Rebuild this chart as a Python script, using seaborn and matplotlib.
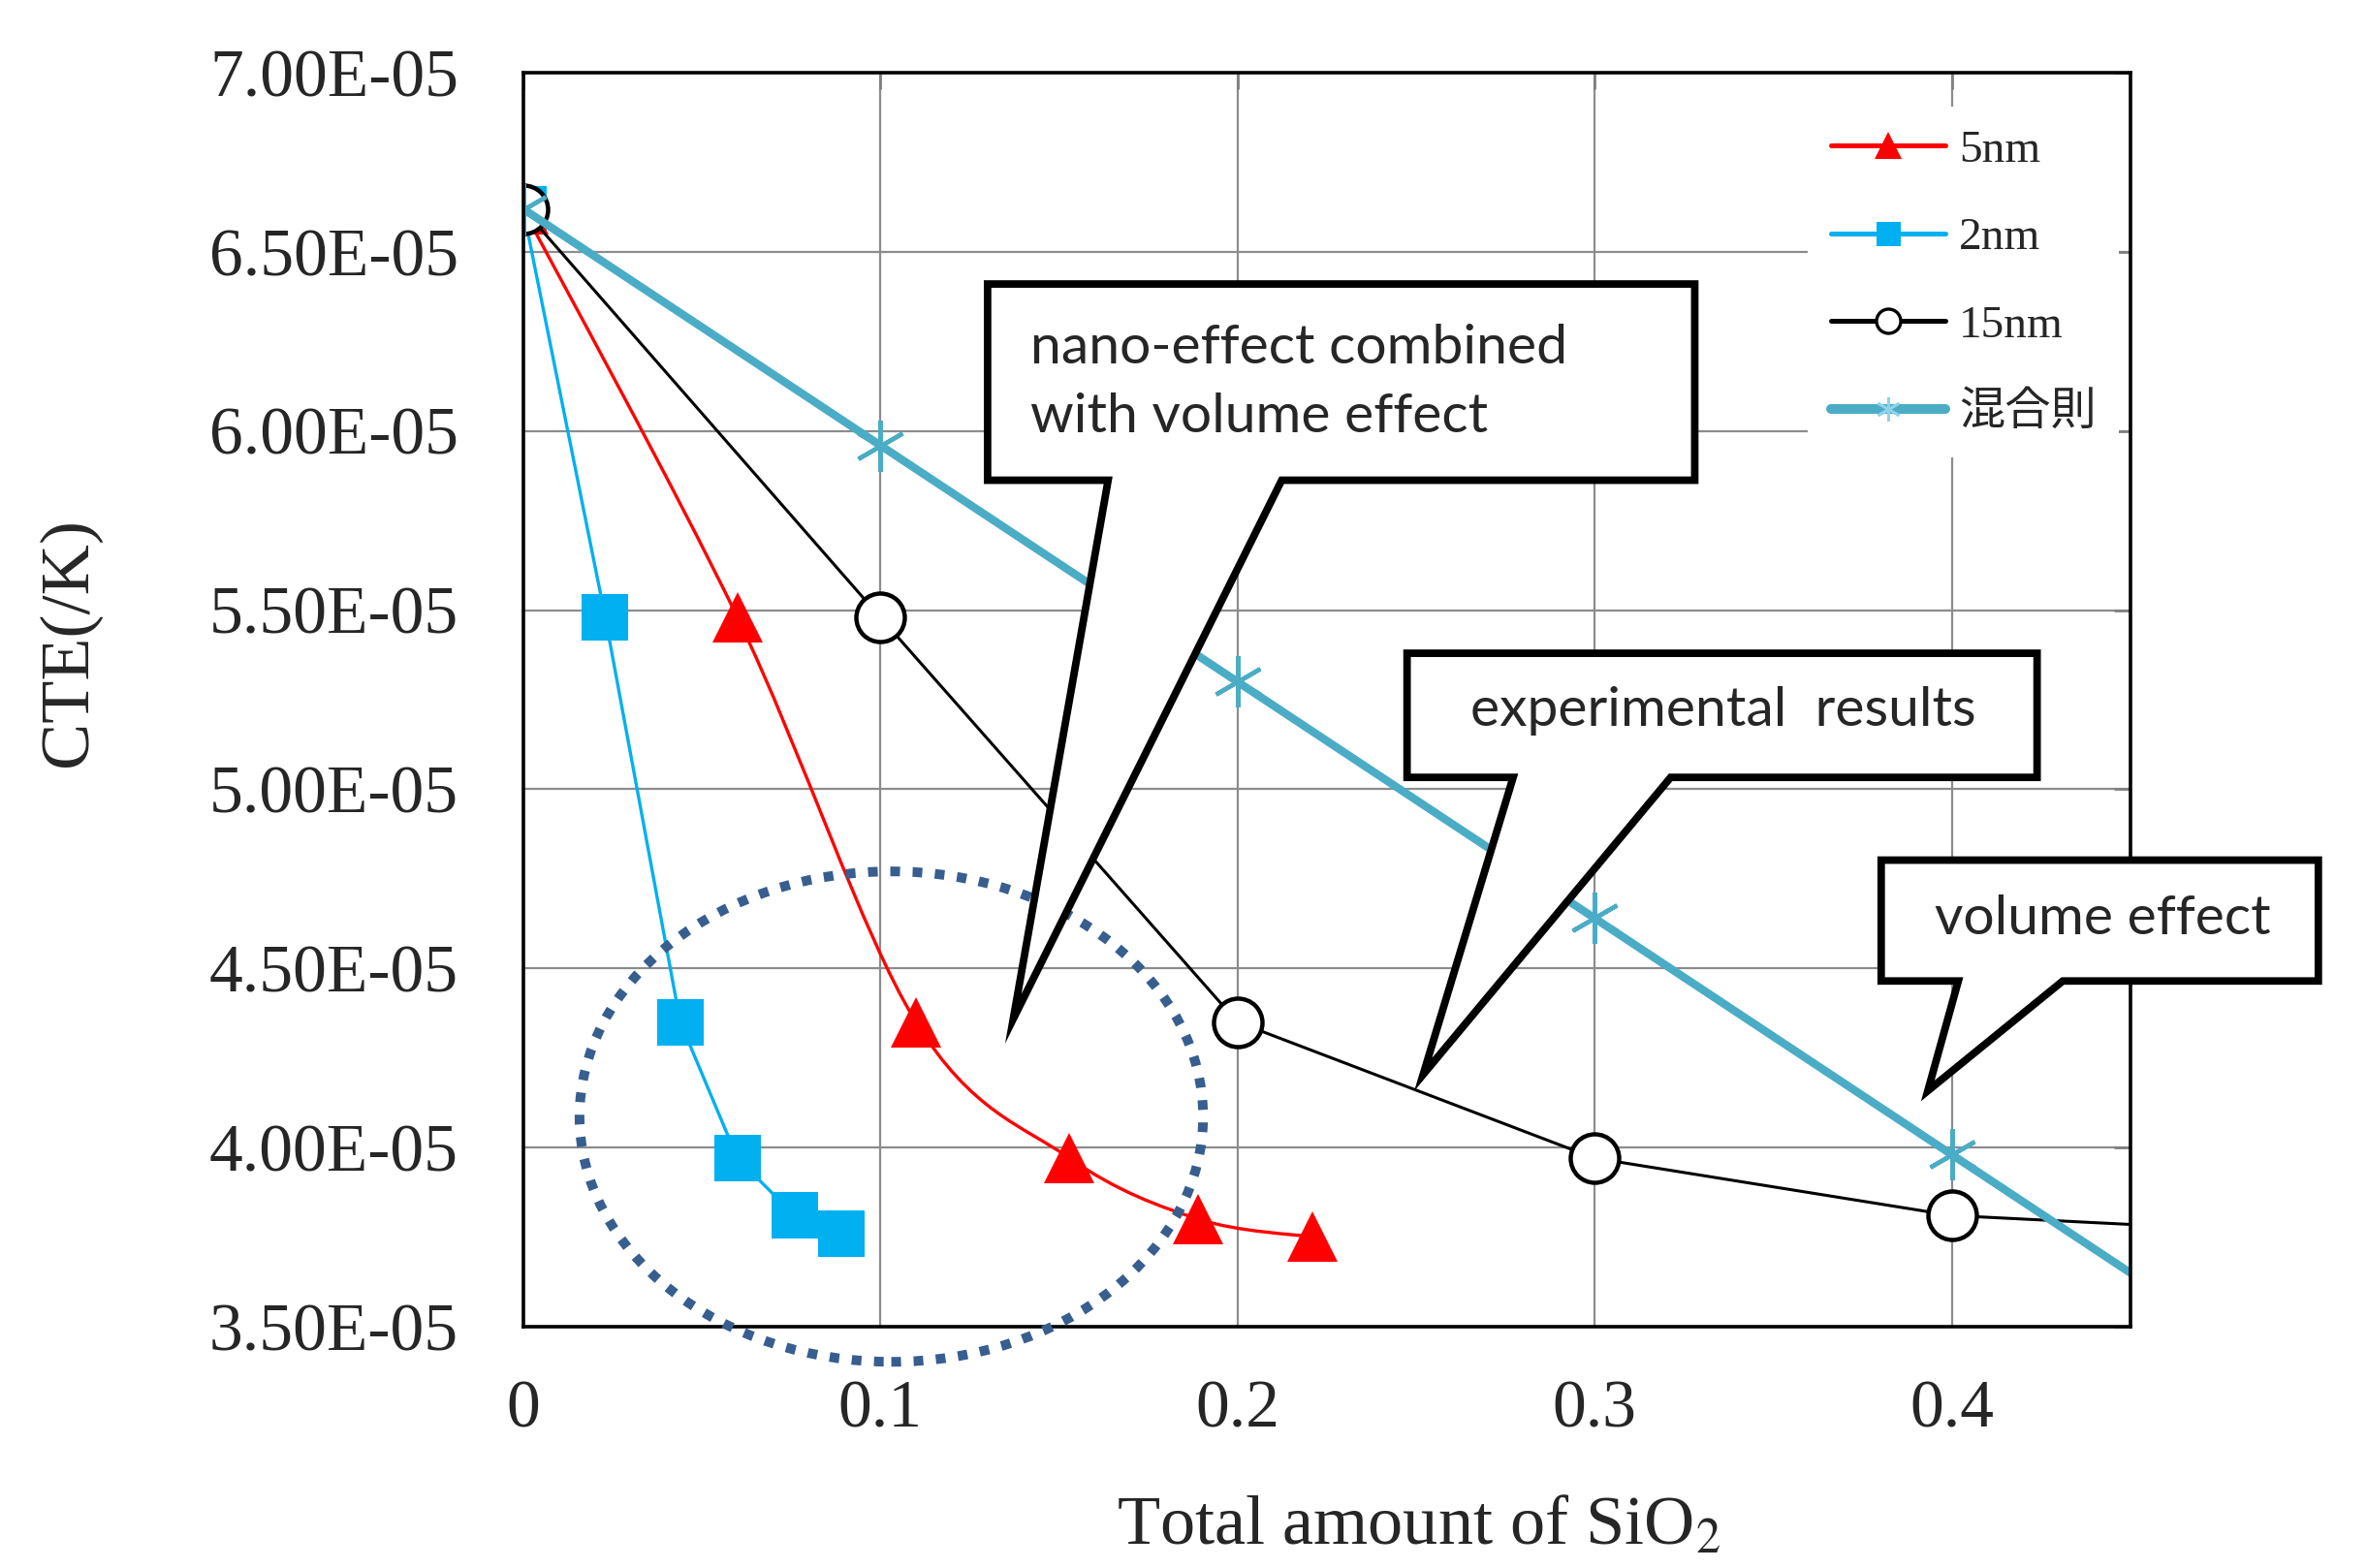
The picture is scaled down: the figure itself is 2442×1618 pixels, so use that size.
import numpy as np
import matplotlib
matplotlib.use("Agg")
import matplotlib.pyplot as plt
import seaborn as sns
from matplotlib.lines import Line2D
from matplotlib.patches import Ellipse, Polygon, PathPatch
from matplotlib.path import Path
from matplotlib.ticker import FuncFormatter, MultipleLocator

sns.set_style("white")
plt.rcParams["font.family"] = ["Liberation Serif", "Noto Sans CJK JP"]
plt.rcParams["mathtext.fontset"] = "stix"

# data (CTE in 1/K vs total SiO2 fraction)
x_5nm = [0, 0.060, 0.110, 0.153, 0.189, 0.221]
cte_5nm = [6.62e-5, 5.48e-5, 4.35e-5, 3.97e-5, 3.80e-5, 3.75e-5]
x_2nm = [0, 0.023, 0.044, 0.060, 0.076, 0.089]
cte_2nm = [6.62e-5, 5.48e-5, 4.35e-5, 3.97e-5, 3.81e-5, 3.76e-5]
x_15nm = [0, 0.1, 0.2, 0.3, 0.4, 0.5]
cte_15nm = [6.62e-5, 5.48e-5, 4.35e-5, 3.97e-5, 3.81e-5, 3.76e-5]
x_mix = [0, 0.1, 0.2, 0.3, 0.4, 0.5]
cte_mix = [6.62e-5, 5.96e-5, 5.30e-5, 4.64e-5, 3.98e-5, 3.32e-5]

labels = ["5nm", "2nm", "15nm", "混合則"]
x_ticks = [0, 0.1, 0.2, 0.3, 0.4]
x_ticklabels = ["0", "0.1", "0.2", "0.3", "0.4"]

red = "#FF0000"
blue = "#00B0F0"
teal = "#4BACC6"
navy = "#375E8F"

fig = plt.figure(figsize=(12.21, 8.09), dpi=200)
ax = fig.add_axes([0.221, 0.154, 0.679, 0.7996])


def smooth_path(xs, ys):
    # excel-like smoothed line: catmull-rom segments as cubic beziers
    P = np.column_stack([xs, ys])
    n = len(P)
    verts = [P[0]]
    codes = [Path.MOVETO]
    for i in range(n - 1):
        p0 = P[i - 1] if i > 0 else P[i]
        p1, p2 = P[i], P[i + 1]
        p3 = P[i + 2] if i + 2 < n else P[i + 1]
        verts += [p1 + (p2 - p0) / 6, p2 - (p3 - p1) / 6, p2]
        codes += [Path.CURVE4] * 3
    return Path(verts, codes)


# 2nm
sns.lineplot(x=x_2nm, y=cte_2nm, sort=False, color=blue, lw=1.2,
             marker="s", markersize=17, markeredgewidth=0, ax=ax, zorder=3)
# 5nm smoothed line + markers
ax.add_patch(PathPatch(smooth_path(x_5nm, cte_5nm), fill=False, edgecolor=red,
                       lw=1.2, zorder=4))
sns.lineplot(x=x_5nm, y=cte_5nm, sort=False, color=red, linestyle="",
             marker="^", markersize=19, markeredgewidth=0, ax=ax, zorder=4)
# 15nm
sns.lineplot(x=x_15nm, y=cte_15nm, sort=False, color="black", lw=1.1,
             marker="o", markersize=18, markerfacecolor="white",
             markeredgecolor="black", markeredgewidth=1.6, ax=ax, zorder=5)
# rule of mixtures
sns.lineplot(x=x_mix, y=cte_mix, sort=False, color=teal, lw=3.0,
             marker=(6, 2, 0), markersize=19, markeredgewidth=1.6,
             markeredgecolor=teal, ax=ax, zorder=6)

ax.set_xlim(0, 0.45)
ax.set_ylim(3.5e-5, 7.0e-5)
ax.set_xticks(x_ticks)
ax.set_xticklabels(x_ticklabels)
ax.yaxis.set_major_locator(MultipleLocator(0.5e-5))
ax.yaxis.set_major_formatter(FuncFormatter(lambda v, _: f"{v:.2E}"))
ax.grid(True, color="#8c8c8c", lw=0.8)
ax.set_axisbelow(True)
ax.tick_params(direction="in", length=6, width=1, color="#808080",
               top=True, right=True)
ax.tick_params(axis="x", pad=20, labelsize=25)
ax.tick_params(axis="y", pad=24, labelsize=25)
for sp in ax.spines.values():
    sp.set_visible(True)
    sp.set_color("black")
    sp.set_linewidth(1.3)
    sp.set_zorder(8.5)

ax.set_xlabel("Total amount of SiO$_2$", fontsize=26)
ax.xaxis.set_label_coords(0.557, -0.135)
ax.set_ylabel("CTE(/K)", fontsize=26)
ax.yaxis.set_label_coords(-0.263, 0.546)

# dotted ellipse around the nano-particle data
ax.add_patch(Ellipse((0.1031, 4.086e-5), 0.1746, 1.369e-5, fill=False,
                     edgecolor=navy, lw=3.6, linestyle=(0, (1.0, 1.3)),
                     zorder=8.7, clip_on=False))

handles = [
    Line2D([], [], color=red, lw=1.8, marker="^", markersize=10, markeredgewidth=0),
    Line2D([], [], color=blue, lw=1.8, marker="s", markersize=9, markeredgewidth=0),
    Line2D([], [], color="black", lw=1.8, marker="o", markersize=9,
           markerfacecolor="white", markeredgewidth=1.2),
    Line2D([], [], color=teal, lw=3.6, marker=(6, 2, 0), markersize=9,
           markeredgewidth=1.0, markeredgecolor="#8fd3e8"),
]
leg = ax.legend(handles, labels, loc="upper left", bbox_to_anchor=(0.785, 0.991),
                frameon=True, fancybox=False, facecolor="white", edgecolor="none",
                framealpha=1, fontsize=17, handlelength=2.5, labelspacing=1.0,
                handletextpad=0.3, borderpad=0.5)
leg.set_zorder(8)

# callouts (axes fraction coordinates)
callouts = [
    # box (x0, x1, y_top, y_bottom), pointer base (xl, xr), tip, text pos, text
    ((0.289, 0.729, 0.8315, 0.675), (0.364, 0.472), (0.305, 0.2455),
     (0.3155, 0.7527), "nano-effect combined\nwith volume effect"),
    ((0.550, 0.942, 0.537, 0.438), (0.616, 0.714), (0.560, 0.201),
     (0.5897, 0.491), "experimental  results"),
    ((0.845, 1.117, 0.372, 0.2756), (0.893, 0.958), (0.874, 0.188),
     (0.878, 0.325), "volume effect"),
]
for (x0, x1, yt, yb), (bl, br), tip, tpos, txt in callouts:
    verts = [(x0, yt), (x1, yt), (x1, yb), (br, yb), tip, (bl, yb), (x0, yb)]
    ax.add_patch(Polygon(verts, closed=True, facecolor="white", edgecolor="black",
                         lw=2.8, joinstyle="miter", transform=ax.transAxes,
                         zorder=9, clip_on=False))
    ax.text(tpos[0], tpos[1], txt, transform=ax.transAxes, ha="left", va="center",
            fontsize=20.5, family="Lato", linespacing=1.5, zorder=10)

fig.savefig("out.png", dpi=200)
